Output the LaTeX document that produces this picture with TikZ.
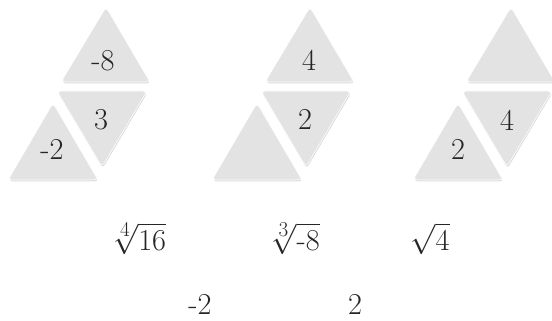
\documentclass[tikz,border=0pt]{standalone}
\usepackage{graphicx}
\usetikzlibrary{shadows}
\definecolor{tilegray}{RGB}{227,227,227}
\newcommand\bigtext[1]{\scalebox{1.22}{#1}}
\tikzset{
  tile/.style={fill=tilegray, draw=white, line width=.6pt, rounded corners=4pt,
    drop shadow={opacity=.3, shadow xshift=.6pt, shadow yshift=-1.4pt}},
  num/.style={font=\fontsize{24.88}{30}\selectfont, inner sep=0pt, text=black!85, anchor=base},
}
\begin{document}
\begin{tikzpicture}[x=1pt,y=-1pt]
  \useasboundingbox (0,0) rectangle (552,321);
  % three groups of tiles
  \foreach \dx in {0,204,405}{
    \draw[tile] (61+\dx,82)--(106+\dx,7)--(150+\dx,82)--cycle;
    \draw[tile] (57+\dx,91)--(147+\dx,91)--(102+\dx,167)--cycle;
    \draw[tile] (8+\dx,180)--(53+\dx,103)--(98+\dx,180)--cycle;
  }
  % numbers on the tiles
  \node[num] (top1) at (103,71) {\bigtext{-8}};
  \node[num] (mid1) at (101,129) {\bigtext{3}};
  \node[num] (low1) at (52,159) {\bigtext{-2}};
  \node[num] (top2) at (309,71) {\bigtext{4}};
  \node[num] (mid2) at (305,129) {\bigtext{2}};
  \node[num] (mid3) at (507,130) {\bigtext{4}};
  \node[num] (low3) at (458,159) {\bigtext{2}};
  % roots and values
  \node[num] (root1) at (139,250) {\bigtext{$\sqrt[4]{16}$}};
  \node[num] (root2) at (295,250) {\bigtext{$\sqrt[3]{\mbox{-}8}$}};
  \node[num] (root3) at (430,250) {\bigtext{$\sqrt{4}$}};
  \node[num] (val1) at (200,314) {\bigtext{-2}};
  \node[num] (val2) at (355,314) {\bigtext{2}};
\end{tikzpicture}
\end{document}
